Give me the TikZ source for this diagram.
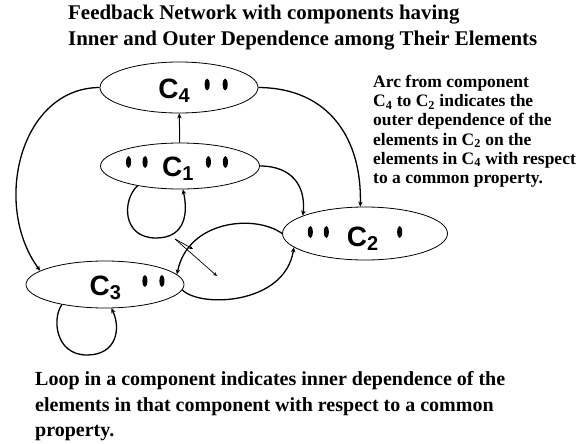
\documentclass[tikz,border=0pt]{standalone}
\usepackage{fontspec}
\setmainfont{Liberation Serif}
\newfontfamily\arialf{Liberation Sans}
\usetikzlibrary{arrows.meta,shapes.geometric}
\newcommand{\bdot}{\tikz[baseline=-14pt]\fill (0pt,0pt) ellipse (2.5pt and 6pt);}
\newcommand{\csub}[1]{C\raisebox{-4pt}{\fontsize{20}{20}\selectfont #1}}
\newcommand{\lbl}[3]{\smash{\makebox[0pt]{\kern#1\raisebox{#2}{#3}\kern-#1}}}
\tikzset{
  comp/.style={draw, ellipse, inner sep=0pt, line width=0.8pt,
    font=\arialf\bfseries\fontsize{28}{28}\selectfont},
  conn/.style={line width=1.3pt, -{Stealth[length=5pt,width=4.5pt]}},
  thinarrow/.style={line width=0.7pt, -{Stealth[length=4pt,width=3.5pt]}},
  txt/.style={anchor=north west, inner sep=0pt, align=left}
}
\begin{document}
\begin{tikzpicture}[x=1pt,y=-1pt]
\useasboundingbox (0,0) rectangle (578,444);
% components
\node[comp, minimum width=158pt, minimum height=51pt] (C4) at (179,87.5)
  {\lbl{14pt}{-11pt}{\csub{4}\hspace{15pt}\bdot\hspace{13pt}\bdot}};
\node[comp, minimum width=159pt, minimum height=46pt] (C1) at (180,166)
  {\lbl{-3pt}{-10pt}{\bdot\hspace{11.5pt}\bdot\hspace{14.5pt}\csub{1}\hspace{12.5pt}\bdot\hspace{12pt}\bdot}};
\node[comp, minimum width=165pt, minimum height=53pt] (C2) at (365,233.5)
  {\lbl{-10pt}{-12.5pt}{\bdot\hspace{11pt}\bdot\hspace{18pt}\csub{2}\hspace{19pt}\bdot}};
\node[comp, minimum width=158pt, minimum height=47pt] (C3) at (105,284.5)
  {\lbl{22pt}{-10.5pt}{\csub{3}\hspace{21.5pt}\bdot\hspace{12pt}\bdot}};
% texts
\node[txt, font=\bfseries\fontsize{20.9}{25.5}\selectfont] (title) at (68,5)
  {Feedback Network with components having\\Inner and Outer Dependence among Their Elements};
\node[txt, font=\bfseries\fontsize{17.5}{19.2}\selectfont] (note) at (373,75)
  {Arc from component\\C\textsubscript{4} to C\textsubscript{2} indicates the\\outer dependence of the\\elements in C\textsubscript{2} on the\\elements in C\textsubscript{4} with respect\\to a common property.};
\node[txt, font=\bfseries\fontsize{20}{25.5}\selectfont] (loopnote) at (35,371.5)
  {Loop in a component indicates inner dependence of the\\elements in that component with respect to a common\\property.};
% connectors
\draw[conn, line width=1pt] (C1) -- (C4);
\draw[conn] (C4.west) .. controls (20,88) and (-8,205) .. (C3.168);
\draw[conn] (C4.east) .. controls (330,88) and (362,140) .. (C2.100);
\draw[conn] (C1.east) .. controls (292,166) and (306,186) .. (C2.164);
\draw[conn] (C1.205) .. controls (122,200) and (122,238) .. (156,238)
  .. controls (186,238) and (188,212) .. (C1.277);
\draw[conn] (C3.205) .. controls (52,318) and (55,355) .. (87,355)
  .. controls (117,355) and (121,328) .. (C3.285);
\draw[conn] (C2.west) .. controls (255,214) and (188,220) .. (C3.8);
\draw[conn] (C3.356) .. controls (200,308) and (285,305) .. (C2.191);
\coordinate (d0) at (175,239);
\coordinate (d1) at (193,249);
\coordinate (d2) at (217,276);
\draw[thinarrow] (d0) -- (d1);
\draw[thinarrow] (d0) -- (d2);
\end{tikzpicture}
\end{document}
